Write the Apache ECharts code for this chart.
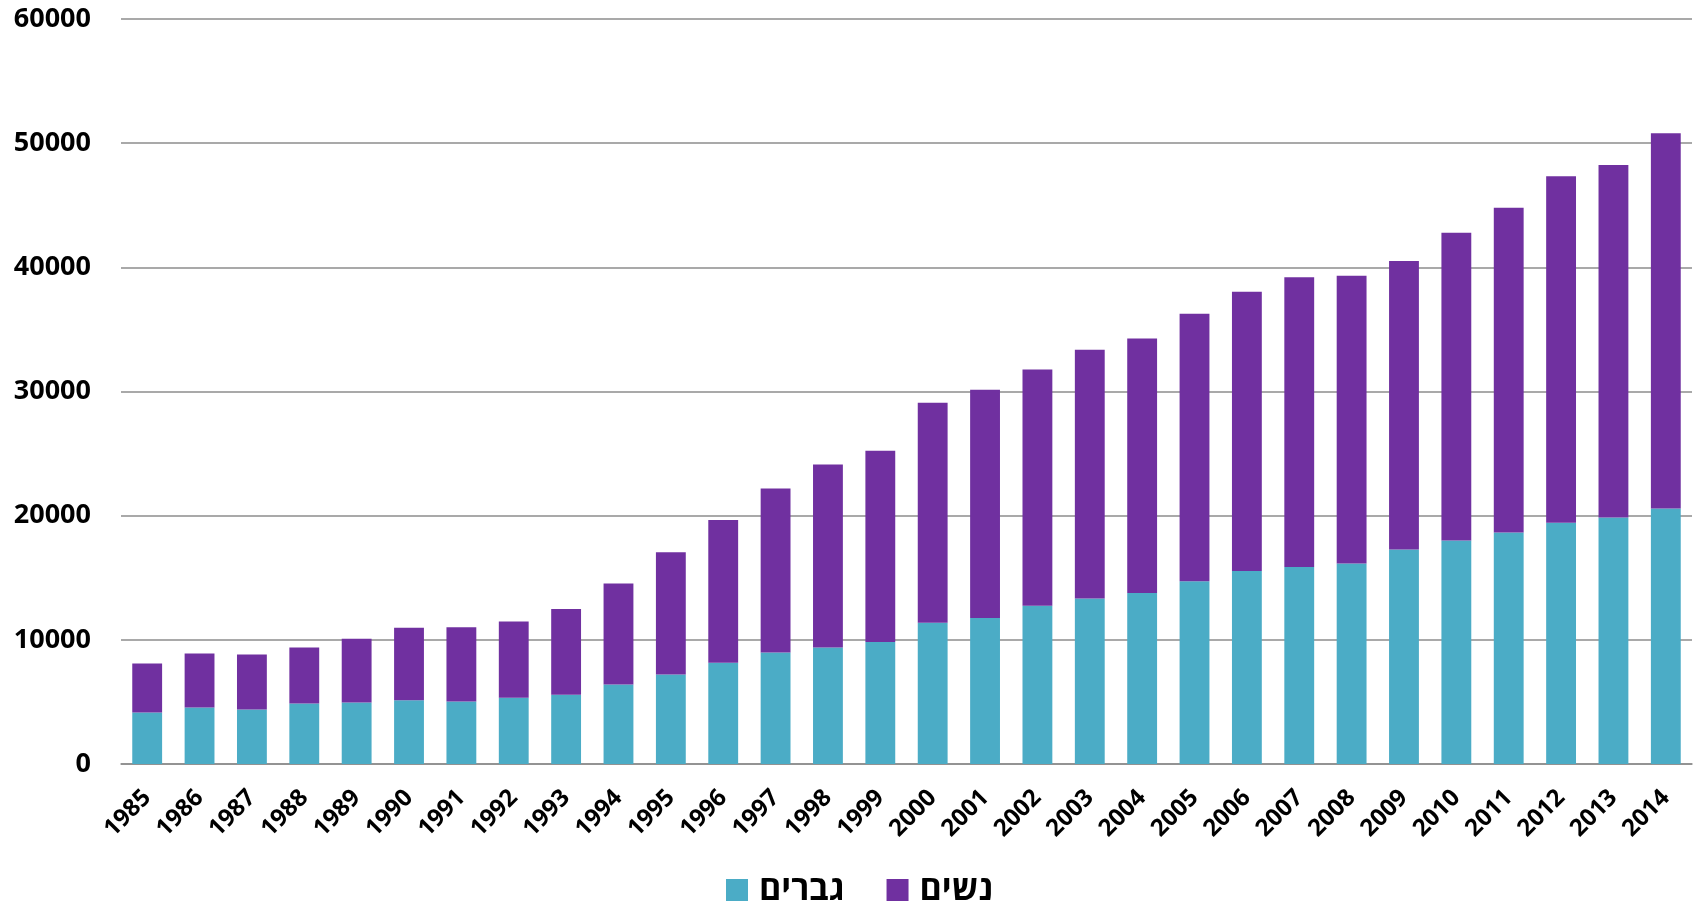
<!DOCTYPE html>
<html>
<head>
<meta charset="utf-8">
<script src="https://cdn.jsdelivr.net/npm/echarts@6/dist/echarts.min.js"></script>
<style>
html,body{margin:0;padding:0;background:#fff;}
#chart{width:1700px;height:907px;}
</style>
</head>
<body>
<div id="chart"></div>
<script>
const years = ['1985','1986','1987','1988','1989','1990','1991','1992','1993','1994','1995','1996','1997','1998','1999','2000','2001','2002','2003','2004','2005','2006','2007','2008','2009','2010','2011','2012','2013','2014'];
const men = [4150,4550,4390,4870,4950,5140,5030,5330,5570,6400,7210,8160,8970,9380,9820,11380,11760,12750,13330,13770,14720,15540,15860,16150,17280,18000,18650,19430,19860,20580];
const women = [3950,4350,4430,4510,5130,5830,5990,6140,6920,8130,9840,11490,13220,14740,15410,17710,18380,19020,20030,20500,21540,22490,23350,23170,23240,24780,26140,27910,28390,30220];
const seriesNames = ['גברים','נשים'];
const yTicks = {min:0, max:60000, interval:10000};

const FONT = '"Open Sans", "DejaVu Sans", sans-serif';
const chart = echarts.init(document.getElementById('chart'), null, {renderer:'canvas'});
chart.setOption({
  animation:false,
  backgroundColor:'#ffffff',
  grid:{left:121, right:8, top:19, bottom:143, containLabel:false},
  legend:{
    data:seriesNames,
    left:726, top:873, padding:0,
    itemWidth:22, itemHeight:22, itemGap:42,
    icon:'rect',
    textStyle:{fontFamily:FONT, fontWeight:'bold', fontSize:34, color:'#000', padding:[0,0,0,6]}
  },
  xAxis:{
    type:'category',
    data:years,
    axisTick:{show:false},
    axisLine:{lineStyle:{color:'#8c8c8c', width:1.5}},
    axisLabel:{rotate:45, fontFamily:FONT, fontWeight:'bold', fontSize:24, color:'#000', margin:30, interval:0}
  },
  yAxis:{
    type:'value',
    min:yTicks.min, max:yTicks.max, interval:yTicks.interval,
    axisLine:{show:false},
    axisTick:{show:false},
    splitLine:{lineStyle:{color:'#8c8c8c', width:1.5}},
    axisLabel:{fontFamily:FONT, fontWeight:'bold', fontSize:27, color:'#000', margin:30,
      formatter:function(v){return String(v);}}
  },
  series:[
    {name:seriesNames[0], type:'bar', stack:'total', data:men, barCategoryGap:'43%',
     itemStyle:{color:'#4BACC6'}},
    {name:seriesNames[1], type:'bar', stack:'total', data:women, barCategoryGap:'43%',
     itemStyle:{color:'#7030A0'}}
  ]
});
</script>
</body>
</html>
